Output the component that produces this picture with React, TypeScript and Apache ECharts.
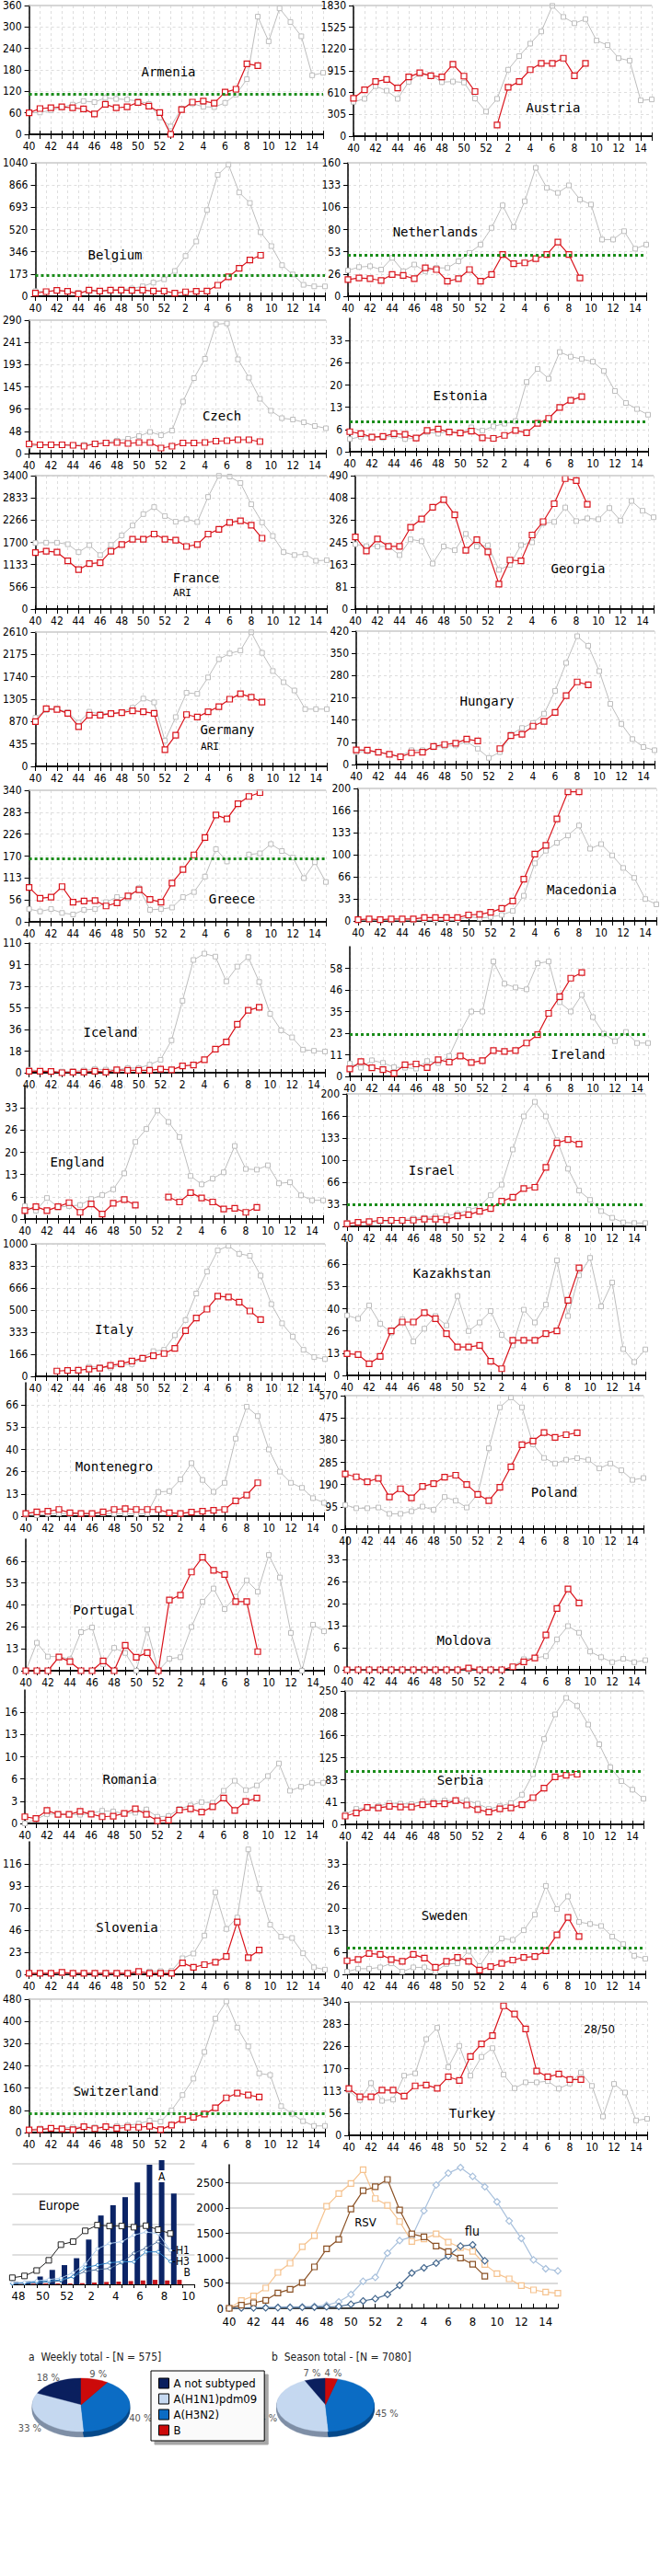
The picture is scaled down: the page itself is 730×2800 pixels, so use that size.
import React, { useEffect, useRef } from "react";
import * as echarts from "echarts";

const NARROW = "'Liberation Sans Narrow', 'DejaVu Sans Condensed', 'Liberation Sans', sans-serif";
const MONO = "'DejaVu Sans Mono', 'Liberation Mono', monospace";

const weeks = ["40","41","42","43","44","45","46","47","48","49","50","51","52","1","2","3","4","5","6","7","8","9","10","11","12","13","14","15"];

const armeniaRed = [60,72,74,77,74,71,57,84,74,77,89,79,61,0,69,90,93,87,118,126,197,192];
const armeniaGray = [60,61,67,76,83,93,90,102,99,97,93,85,47,22,72,86,77,76,88,111,154,329,260,352,314,274,165,172];
const austriaRed = [531,650,765,795,676,829,888,846,829,1007,841,625,null,157,684,765,931,1020,1020,1092,846,1020];
const austriaGray = [480,523,701,637,523,761,871,854,756,765,752,527,344,523,931,1122,1296,1466,1825,1670,1581,1640,1339,1275,1092,1058,501,514];
const belgiumRed = [24,36,46,38,19,48,41,48,48,46,48,41,41,24,34,38,41,86,151,218,283,319];
const belgiumGray = [40,36,46,36,26,41,36,48,53,60,77,106,132,197,314,427,672,946,1027,809,727,499,391,242,170,89,77,77];
const netherlandsRed = [20,22,21,19,26,25,21,34,32,18,21,32,18,26,50,39,40,45,50,65,50,22];
const netherlandsGray = [31,35,36,32,46,30,38,30,34,34,42,52,62,82,109,83,114,154,130,124,133,116,110,68,68,78,57,62];
const czechRed = [21,19,19,19,18,16,21,23,24,22,24,24,12,16,23,23,24,27,28,30,30,26];
const czechGray = [17,18,18,18,18,19,21,24,28,32,38,47,40,50,113,164,206,281,283,205,165,119,93,77,74,68,60,55];
const estoniaRed = [6.0,5.4,4.4,4.6,5.4,5.2,4.1,6.4,6.8,5.9,5.6,6.2,4.2,4.0,4.9,6.4,5.7,8.5,10,13.3,15.4,16.5];
const estoniaGray = [3.8,4.5,4.5,4.2,4.8,3.8,4.1,5.9,5.4,6.1,5.6,7.3,6.3,7.6,8.4,9.2,20.9,24.8,21.9,29.9,28.5,27.8,27,24.2,18.2,14.6,12.8,11.1];
const franceRed = [1441,1474,1450,1230,1003,1157,1182,1474,1643,1781,1781,1911,1781,1757,1595,1643,1911,2032,2209,2250,2136,1805];
const franceGray = [1684,1692,1692,1652,1450,1627,1376,1635,1878,2128,2420,2598,2371,2225,2290,2217,2857,3395,3376,3214,2671,2209,1862,1450,1376,1400,1230,1246];
const georgiaRed = [265,213,257,230,230,300,331,374,402,346,216,255,210,92,180,177,272,321,387,479,472,385];
const georgiaGray = [238,231,230,230,198,256,249,167,230,216,276,230,234,144,162,235,245,315,320,373,323,333,330,371,325,397,361,337];
const germanyRed = [870,1118,1106,1031,771,994,994,1025,1044,1081,1062,1031,323,605,1006,957,1062,1161,1305,1410,1342,1249];
const germanyGray = [944,1093,1118,1050,851,1062,1019,1031,1050,1137,1317,1243,497,957,1429,1410,1728,2082,2194,2250,2605,2206,1852,1635,1474,1112,1112,1112];
const hungaryRed = [46,45,39,32,24,37,39,57,63,67,80,74,null,50,91,95,121,136,164,217,260,251];
const hungaryGray = [39,42,39,32,26,45,45,54,57,60,72,50,21,39,95,115,131,160,232,320,404,374,294,191,128,80,55,45];
const greeceRed = [89,61,64,91,51,54,55,41,49,67,83,58,51,100,135,173,218,276,266,305,324,334];
const greeceGray = [33,27,33,23,19,31,33,51,64,61,87,31,33,37,64,77,117,188,156,null,174,177,201,183,166,113,154,103];
const macedoniaRed = [2,3,2,3,3,3,5,5,5,5,9,10,13,19,30,63,101,114,154,195,195];
const macedoniaGray = [1,1,1,1,1,1,1,1,1,1,7,4,6,9,15,38,87,106,118,129,144,109,116,99,80,65,33,25];
const icelandRed = [1.3,1.3,1,0,0.5,0.5,1.3,0.5,2.4,2,2,2,3,2.4,5.8,6.5,11,20,26,41,53,55.5];
const icelandGray = [2.6,1.6,1.3,1,1.3,2,3,2.6,2.4,4,4,6.8,11,27.5,61,95.6,101,98.5,77.5,90,98,77,50,36,30,19.6,18.6,18];
const irelandRed = [4,8,4.7,3.7,1.7,6.3,6.7,4.8,9,7.7,11,7.5,8.5,14,13.5,14,18,22.5,34,43,53,56];
const irelandGray = [7,4.7,8.7,7.3,5,4.7,4.2,8.3,7.2,11,24,35,35,62,50,48,47,61,62,40,35,44,32,23,19,24,18,18];
const englandRed = [2.5,3.7,2.5,3.7,4.9,2,4.5,1.5,4.7,5.8,4.2,null,null,6.6,5.1,7.9,6.3,5.1,3,3.2,2,3.5];
const englandGray = [3.9,2.5,6.3,3.5,3.9,4.2,6,7.2,8.9,13.7,23.1,27,32.5,29.1,24.6,12.9,10.4,12.1,14,21.9,15,14.8,16.1,10.7,11,7.1,5.6,5.6];
const israelRed = [4,6,7,9,9,9,9.4,11,11,10,15.7,17.6,22.7,27,38,44,57,59,89,126,131,124];
const israelGray = [5,5,6,7,8,10,12,13,15,16,19,25,30,47,63,116,166,188,166,130,87,54,40,23,13,6,5,5];
const italyRed = [null,null,40,44,46,55,62,82,95,116,136,156,172,211,345,440,507,605,598,560,493,428];
const italyGray = [null,null,null,null,null,72,70,66,86,92,140,190,200,310,425,625,790,950,985,925,910,760,545,400,300,200,145,130];
const kazakhstanRed = [13,12.5,7,11.4,26.7,32,32,37.6,34,25,17,17,18,8.5,4,21,21,21,25,26.7,45,64.5];
const kazakhstanGray = [36,34,42,31,25.6,33.7,20.3,28,35.6,30,47.6,26.6,31.7,38.6,24.3,18,39.4,31.7,42.4,69,35.6,60,70.5,41.4,55.7,15.8,8,15.6];
const montenegroRed = [1.6,2.5,3,4,2,1.6,1.6,2.5,4,4.5,4,4,4,2,1.6,2.4,3,3.5,4,9.2,12.6,20];
const montenegroGray = [0.8,0.5,1.3,1.6,1.3,1.7,1.3,1.7,1.4,1.6,1.1,1.7,14.5,15,22,31.8,21.7,14.6,20,46.5,65.6,60,40,26.7,20,17,10.8,8];
const polandRed = [235,223,202,217,137,172,133,182,194,222,230,190,148,121,178,266,360,376,412,392,403,411];
const polandGray = [103,89,89,92,65,65,76,96,82,137,121,92,150,345,520,562,520,362,304,280,296,303,296,259,280,251,210,218];
const portugalRed = [0,0,0,8.3,5.5,0,0,5.9,0,15.5,8.2,11,0,43,46,60,69,61,58.5,42,42,11.6];
const portugalGray = [0,17,8.6,8.6,7,23.5,26.3,4,13.9,10.8,0,25,0,7.3,8.2,26.6,42,50,37.5,45,55,48,70.4,56.7,23,0,28,24];
const moldovaRed = [0,0,0,0,0,0,0,0,0,0,0,0.5,0,0,0,0.9,2.4,3.6,10.5,18.5,24.4,20.2];
const moldovaGray = [0,0,0,0,0,0,0,0,0,0,0,0,0,0,0,1,3.2,3.6,4.1,9.2,13.2,11.2,5.5,3.8,2.3,3.3,2.3,2.9];
const romaniaRed = [1.0,0.75,1.95,1.35,1.35,1.8,1.4,1.0,1.1,1.5,2.2,1.35,0.4,0.5,2.0,2.2,1.7,2.5,3.8,1.95,3.3,3.8];
const romaniaGray = [0,0.6,1.4,1.4,1.4,1.3,1.5,1.9,1.8,1.5,1.6,2.1,1.0,1.1,2.2,2.7,3.2,3.1,4.9,6.4,5.0,5.7,7.1,9.0,4.9,5.5,6.1,6.1];
const serbiaRed = [15.5,21.5,31.7,30.7,33.7,32.7,32.7,36.7,38.7,38.7,44.6,36.2,27.7,23,29,30.7,36.7,50,68,89,92,94];
const serbiaGray = [19,29,31.7,34,40,38.7,38,43.5,42.3,44.6,44.6,45.2,38.7,29,34,40,55.6,94,160,206,237,222,187,150,107,80.9,65,48];
const sloveniaRed = [1,1,1,2,1,1,1,1,1,1,3,1,1,1,12,7.4,10.2,12.8,18.8,55.3,17.6,25.6];
const sloveniaGray = [1,1,1,1,1,1,1,1,1,1,2,3,3.4,3.7,17,21.9,41,86.7,47.9,60,132,90.4,52.4,39.7,38.4,22.2,7.4,5];
const swedenRed = [4.1,4.5,6.3,6.0,4.5,3.9,6.0,4.9,2.1,3.9,5.1,3.9,1.3,2.3,3.3,4.3,5.1,5.4,7.1,11.9,17.2,11.4];
const swedenGray = [0.8,1.7,1.7,2.1,3.3,0.8,2.1,2.1,0.8,3.1,3.3,7.1,2.5,7.4,10.8,10.4,13.3,18,26.7,19.7,23.5,15.8,15.2,14.6,11.4,9.1,5.6,4.7];
const switzerlandRed = [9.5,10.5,15,13,10.5,21,14,21,15,19,19,23,10.5,27,47,55,66.5,89,125,142,135,128];
const switzerlandGray = [9.5,15,13,17,19,20,19,20,23,26,32,43,39,80,135,194,290,410,472,378,310,213,207,95,67.5,41,24,24];
const turkeyRed = [119.5,98,98,115,115,100,126,128,120,149,140,201,233,254,330,309,271,164,149,156,142,142];
const turkeyGray = [114,90,133,88,91,152,158,245,274,174,228,152,200,222,155,120,135,135,138,119,132,160,126,48,131,109,38,42];

const panels: any[] = [
  { name: "Armenia", red: armeniaRed, gray: armeniaGray, max: 360, thr: 113 },
  { name: "Austria", red: austriaRed, gray: austriaGray, max: 1830 },
  { name: "Belgium", red: belgiumRed, gray: belgiumGray, max: 1040, thr: 166 },
  { name: "Netherlands", red: netherlandsRed, gray: netherlandsGray, max: 160, thr: 49 },
  { name: "Czech", red: czechRed, gray: czechGray, max: 290 },
  { name: "Estonia", red: estoniaRed, gray: estoniaGray, max: 40, thr: 8.9 },
  { name: "France", sub: "ARI", red: franceRed, gray: franceGray, max: 3400 },
  { name: "Georgia", red: georgiaRed, gray: georgiaGray, max: 490 },
  { name: "Germany", sub: "ARI", red: germanyRed, gray: germanyGray, max: 2610 },
  { name: "Hungary", red: hungaryRed, gray: hungaryGray, max: 420 },
  { name: "Greece", red: greeceRed, gray: greeceGray, max: 340, thr: 163 },
  { name: "Macedonia", red: macedoniaRed, gray: macedoniaGray, max: 200 },
  { name: "Iceland", red: icelandRed, gray: icelandGray, max: 110 },
  { name: "Ireland", red: irelandRed, gray: irelandGray, max: 70, thr: 22.5 },
  { name: "England", red: englandRed, gray: englandGray, max: 40 },
  { name: "Israel", red: israelRed, gray: israelGray, max: 200, thr: 33 },
  { name: "Italy", red: italyRed, gray: italyGray, max: 1000 },
  { name: "Kazakhstan", red: kazakhstanRed, gray: kazakhstanGray, max: 80 },
  { name: "Montenegro", red: montenegroRed, gray: montenegroGray, max: 80 },
  { name: "Poland", red: polandRed, gray: polandGray, max: 570 },
  { name: "Portugal", red: portugalRed, gray: portugalGray, max: 80 },
  { name: "Moldova", red: moldovaRed, gray: moldovaGray, max: 40 },
  { name: "Romania", red: romaniaRed, gray: romaniaGray, max: 20 },
  { name: "Serbia", red: serbiaRed, gray: serbiaGray, max: 250, thr: 100 },
  { name: "Slovenia", red: sloveniaRed, gray: sloveniaGray, max: 140 },
  { name: "Sweden", red: swedenRed, gray: swedenGray, max: 40, thr: 7.9 },
  { name: "Switzerland", red: switzerlandRed, gray: switzerlandGray, max: 480, thr: 68 },
  { name: "Turkey", note: "28/50", red: turkeyRed, gray: turkeyGray, max: 340 },
];

// layout: y-axis x, grid top (max), x-axis y (zero), name position, whether top label is visible
const panelLayout = [
  { x: 27, top: 3, zero: 146, lx: 183, ly: 78, showTop: true },
  { x: 384, top: 5, zero: 148, lx: 601, ly: 117, showTop: true },
  { x: 29, top: 177, zero: 322, lx: 125, ly: 277, showTop: true },
  { x: 378, top: 177, zero: 322, lx: 473, ly: 252, showTop: true },
  { x: 30, top: 348, zero: 493, lx: 241, ly: 452, showTop: true },
  { x: 380, top: 346, zero: 491, lx: 500, ly: 430, showTop: false },
  { x: 31, top: 517, zero: 662, lx: 213, ly: 628, sx: 198, sy: 644, showTop: true },
  { x: 386, top: 517, zero: 662, lx: 628, ly: 618, showTop: true },
  { x: 31, top: 687, zero: 833, lx: 247, ly: 793, sx: 228, sy: 811, showTop: true },
  { x: 387, top: 686, zero: 831, lx: 529, ly: 762, showTop: true },
  { x: 30, top: 859, zero: 1002, lx: 252, ly: 977, showTop: true },
  { x: 389, top: 857, zero: 1001, lx: 632, ly: 967, showTop: true },
  { x: 29, top: 1025, zero: 1166, lx: 120, ly: 1122, showTop: false },
  { x: 380, top: 1029, zero: 1170, lx: 628, ly: 1146, showTop: false },
  { x: 27, top: 1180, zero: 1325, lx: 84, ly: 1263, showTop: false },
  { x: 377, top: 1189, zero: 1333, lx: 469, ly: 1272, showTop: true },
  { x: 29, top: 1352, zero: 1496, lx: 124, ly: 1445, showTop: true },
  { x: 377, top: 1350, zero: 1495, lx: 491, ly: 1384, showTop: false },
  { x: 28, top: 1503, zero: 1648, lx: 124, ly: 1594, showTop: false },
  { x: 375, top: 1517, zero: 1662, lx: 602, ly: 1622, showTop: true },
  { x: 28, top: 1673, zero: 1816, lx: 113, ly: 1750, showTop: false },
  { x: 377, top: 1671, zero: 1815, lx: 504, ly: 1783, showTop: false },
  { x: 27, top: 1837, zero: 1982, lx: 141, ly: 1934, showTop: false },
  { x: 375, top: 1838, zero: 1983, lx: 500, ly: 1935, showTop: true },
  { x: 29, top: 2002, zero: 2146, lx: 138, ly: 2095, showTop: false },
  { x: 377, top: 2002, zero: 2146, lx: 483, ly: 2082, showTop: false },
  { x: 29, top: 2173, zero: 2318, lx: 126, ly: 2273, showTop: true },
  { x: 379, top: 2176, zero: 2321, lx: 513, ly: 2297, nx: 651, ny: 2205, showTop: true },
];

// Europe panel
const europeWeeks = ["48","49","50","51","52","1","2","3","4","5","6","7","8","9","10"];
const europeEdges = ["48","49","50","51","52","1","2","3","4","5","6","7","8","9","10","11"];
const europeA = [8,10,26,48,64,87,149,229,263,290,339,398,413,302];
const europeB = [1,2,3,3,3,4,6,8,9,11,13,15,13,15];
const europeTotal = [22,28,46,80,132,142,178,197,194,194,190,195,182,169];
const europeH1 = [5,7,12,16,21,39,67,118,136,142,164,174,169,113];
const europeH3 = [3,5,8,11,15,26,56,64,72,75,75,108,108,76];
const europeOther = [2,4,6,8,12,26,43,49,53,72,103,121,142,113];

// RSV / flu panel
const rsvPrevSeason = [0,152,244,403,714,897,1226,1446,2031,2281,2485,2760,2184,2050,1726,1330,1379,1482,1318,1208,1135,872,689,586,451,366,323,300];
const rsvThisSeason = [0,61,110,159,305,378,512,824,1183,1373,1976,2342,2418,2564,1958,1482,1421,1238,1128,1000,878,640];
const fluPrevSeason = [0,10,12,15,20,25,30,40,61,128,275,537,616,1098,1348,1421,1941,2454,2690,2802,2625,2418,2119,1738,1391,964,787,744];
const fluThisSeason = [0,5,8,10,12,15,18,22,28,37,79,146,189,275,457,701,805,897,1043,1238,1263,945];

// pies
const subtypeNames = ["A not subtyped", "A(H1N1)pdm09", "A(H3N2)", "B"];
const weeklyCounts = [103, 190, 230, 52];
const seasonCounts = [496, 3115, 3186, 283];
const subtypeColors = ["#0a1f5e", "#c5d8f0", "#0b6cc4", "#cc0a0a"];
const subtypeSides = ["#061440", "#7f8fa6", "#074a8a", "#7a0000"];

const RED = "#d9131b";
const GRAY = "#bdbdbd";

function buildOption() {
  const grid: any[] = [];
  const xAxis: any[] = [];
  const yAxis: any[] = [];
  const series: any[] = [];
  const graphic: any[] = [];

  panels.forEach((p, k) => {
    const L: any = panelLayout[k];
    grid.push({ left: L.x, top: L.top, width: 324, height: L.zero - L.top, containLabel: false });
    const xi = xAxis.length;
    xAxis.push({
      type: "category", gridIndex: k, data: weeks, boundaryGap: false, position: "bottom",
      axisLine: { onZero: false, lineStyle: { color: "#000", width: 1.5 } },
      axisTick: { show: true, interval: 0, length: 5, lineStyle: { color: "#000", width: 1 } },
      axisLabel: { interval: 1, margin: 7, fontSize: 12, fontFamily: NARROW, color: "#000" },
      splitLine: { show: true, interval: 0, lineStyle: { color: "#dedede", type: [3, 3], width: 1 } },
    });
    xAxis.push({
      type: "category", gridIndex: k, data: weeks, boundaryGap: false, position: "top",
      axisLine: { show: true, onZero: true, lineStyle: { color: "#000", width: 1.5 } },
      axisTick: { show: true, interval: 0, length: 4, lineStyle: { color: "#000", width: 1 } },
      axisLabel: { show: false }, splitLine: { show: false },
    });
    const yi = yAxis.length;
    yAxis.push({
      type: "value", gridIndex: k, min: 0, max: p.max, interval: p.max / 6, position: "left",
      axisLine: { show: true, lineStyle: { color: "#000", width: 1.5 } },
      axisTick: { show: true, length: 5, lineStyle: { color: "#000" } },
      axisLabel: {
        margin: 8, fontSize: 12, fontFamily: NARROW, color: "#000", showMaxLabel: L.showTop,
        formatter: (v: number) => String(Math.floor(v + 1e-6)),
      },
      splitLine: { show: true, showMinLine: false, showMaxLine: false, lineStyle: { color: "#dedede", type: [3, 3] } },
    });
    series.push({
      type: "line", xAxisIndex: xi, yAxisIndex: yi, data: p.gray, silent: true,
      symbol: "rect", symbolSize: 5, showAllSymbol: true, connectNulls: false, z: 2,
      lineStyle: { color: GRAY, width: 1 },
      itemStyle: { color: "#fff", borderColor: GRAY, borderWidth: 1 },
      markLine: L.showTop ? {
        silent: true, symbol: ["none", "none"], label: { show: false },
        lineStyle: { color: "#c8c8c8", type: "solid", width: 1.5 },
        data: [{ yAxis: p.max }],
      } : undefined,
    });
    series.push({
      type: "line", xAxisIndex: xi, yAxisIndex: yi, data: p.red, silent: true,
      symbol: "rect", symbolSize: 6, showAllSymbol: true, connectNulls: false, z: 3,
      lineStyle: { color: RED, width: 1.2 },
      itemStyle: { color: "#fff", borderColor: RED, borderWidth: 1.2 },
      markLine: p.thr !== undefined ? {
        silent: true, symbol: ["none", "none"], label: { show: false },
        lineStyle: { color: "#1a8c1a", type: [3, 3], width: 3 },
        data: [{ yAxis: p.thr }],
      } : undefined,
    });
    graphic.push({
      type: "text", x: L.lx, y: L.ly, z: 50,
      style: { text: p.name, fill: "#000", fontSize: 14, fontFamily: MONO, align: "center", verticalAlign: "middle" },
    });
    if (p.sub) {
      graphic.push({
        type: "text", x: L.sx, y: L.sy, z: 50,
        style: { text: p.sub, fill: "#000", fontSize: 11, fontFamily: MONO, align: "center", verticalAlign: "middle" },
      });
    }
    if (p.note) {
      graphic.push({
        type: "text", x: L.nx, y: L.ny, z: 50,
        style: { text: p.note, fill: "#000", fontSize: 13, fontFamily: NARROW, align: "center", verticalAlign: "middle" },
      });
    }
  });

  // Europe panel
  const eg = grid.length;
  grid.push({ left: 13.4, top: 2345.7, width: 198, height: 137.3, containLabel: false });
  const ex = xAxis.length;
  xAxis.push({
    type: "category", gridIndex: eg, data: europeWeeks, boundaryGap: true, position: "bottom",
    axisLine: { onZero: false, lineStyle: { color: "#000", width: 1 } },
    axisTick: { show: true, interval: 0, length: 4, lineStyle: { color: "#000" } },
    axisLabel: { interval: 1, margin: 6, fontSize: 13, fontFamily: NARROW, color: "#000" },
    splitLine: { show: false },
  });
  const ex2 = xAxis.length;
  xAxis.push({ type: "category", gridIndex: eg, data: europeEdges, boundaryGap: false, position: "top", show: false });
  const ey = yAxis.length;
  yAxis.push({
    type: "value", gridIndex: eg, min: 0, max: 420, interval: 100,
    axisLine: { show: false }, axisTick: { show: false }, axisLabel: { show: false },
    splitLine: { show: true, showMinLine: false, showMaxLine: false, lineStyle: { color: "#d4d4d4", width: 1.5 } },
  });
  series.push({
    type: "bar", xAxisIndex: ex, yAxisIndex: ey, barWidth: 6, barGap: "10%", silent: true, z: 2,
    itemStyle: { color: "#0b2466" },
    data: europeA.map((v, i) => i === 12 ? {
      value: v,
      label: { show: true, position: "insideTop", formatter: "A", offset: [0, 6], color: "#000", fontSize: 12, fontFamily: NARROW, backgroundColor: "#fff", padding: [1, 1, 0, 1] },
    } : v),
  });
  series.push({
    type: "bar", xAxisIndex: ex, yAxisIndex: ey, barWidth: 5, silent: true, z: 2,
    itemStyle: { color: "#c4151c" },
    data: europeB.map((v, i) => i === europeB.length - 1 ? {
      value: v,
      label: { show: true, position: [7, -14], formatter: "B", color: "#000", fontSize: 12, fontFamily: NARROW },
    } : v),
  });
  const euLine = (data: number[], color: string, symbol: string, size: number, fill: string, label?: string) => ({
    type: "line", xAxisIndex: ex2, yAxisIndex: ey, data, silent: true, z: 4,
    symbol, symbolSize: size, showAllSymbol: true,
    lineStyle: { color, width: 1 },
    itemStyle: { color: fill, borderColor: color, borderWidth: 1 },
    endLabel: label ? { show: true, formatter: label, color: "#000", fontSize: 12, fontFamily: NARROW, distance: 2 } : undefined,
  });
  series.push(euLine(europeOther, "#4d6f99", "diamond", 4, "#fff"));
  series.push(euLine(europeH3, "#2f86c8", "diamond", 4, "#fff", "-H3"));
  series.push(euLine(europeH1, "#a9c9ea", "diamond", 4, "#fff", "-H1"));
  series.push(euLine(europeTotal, "#222222", "rect", 6, "#fff"));
  graphic.push({
    type: "text", x: 64, y: 2397, z: 50,
    style: { text: "Europe", fill: "#000", fontSize: 14, fontFamily: NARROW, align: "center", verticalAlign: "middle" },
  });

  // RSV / flu panel
  const rg = grid.length;
  grid.push({ left: 249, top: 2353, width: 357, height: 156, containLabel: false });
  const rx = xAxis.length;
  xAxis.push({
    type: "category", gridIndex: rg, data: weeks, boundaryGap: false, position: "bottom",
    axisLine: { onZero: false, lineStyle: { color: "#000", width: 1.5 } },
    axisTick: { show: true, inside: true, interval: 0, length: 5, lineStyle: { color: "#000" } },
    axisLabel: { interval: 1, margin: 8, fontSize: 13, fontFamily: NARROW, color: "#000" },
    splitLine: { show: false },
  });
  const ry = yAxis.length;
  yAxis.push({
    type: "value", gridIndex: rg, min: 0, max: 2857, interval: 500,
    axisLine: { show: true, lineStyle: { color: "#000", width: 1.5 } },
    axisTick: { show: true, length: 4, lineStyle: { color: "#000" } },
    axisLabel: { margin: 6, fontSize: 13, fontFamily: NARROW, color: "#000", showMaxLabel: false, formatter: (v: number) => String(v) },
    splitLine: { show: true, showMinLine: false, showMaxLine: false, lineStyle: { color: "#cfcfcf", width: 1.5 } },
  });
  const rsvLine = (data: number[], color: string, symbol: string) => ({
    type: "line", xAxisIndex: rx, yAxisIndex: ry, data, silent: true,
    symbol, symbolSize: symbol === "rect" ? 6 : 7, showAllSymbol: true,
    lineStyle: { color, width: 1.2 },
    itemStyle: { color: "#fff", borderColor: color, borderWidth: 1.2 },
  });
  series.push(rsvLine(fluPrevSeason, "#a8c0dc", "diamond"));
  series.push(rsvLine(rsvPrevSeason, "#f5c28e", "rect"));
  series.push(rsvLine(fluThisSeason, "#46698f", "diamond"));
  series.push(rsvLine(rsvThisSeason, "#8b5226", "rect"));
  graphic.push({ type: "text", x: 397, y: 2415, z: 50, style: { text: "RSV", fill: "#000", fontSize: 13, fontFamily: NARROW, align: "center", verticalAlign: "middle" } });
  graphic.push({ type: "text", x: 513, y: 2425, z: 50, style: { text: "flu", fill: "#000", fontSize: 14, fontFamily: NARROW, align: "center", verticalAlign: "middle" } });

  // pies
  const pieSets = [weeklyCounts, seasonCounts];
  const pieCenters = [[88, 2614], [353.5, 2614]];
  const PR = 53, PRY = 29, DEPTH = 6;
  subtypeNames.forEach((name, j) => {
    series.push({
      type: "custom", name, coordinateSystem: "none", silent: true,
      itemStyle: { color: subtypeColors[j] },
      data: [weeklyCounts[j], seasonCounts[j]],
      renderItem: (params: any) => {
        const i = params.dataIndex;
        const counts = pieSets[i];
        const total = counts.reduce((a, b) => a + b, 0);
        let before = 0;
        for (let q = 0; q < j; q++) before += counts[q];
        const cumStart = before / total;
        const cumEnd = (before + counts[j]) / total;
        const t0 = (1 - cumEnd) * Math.PI * 2;
        const t1 = (1 - cumStart) * Math.PI * 2;
        const a0 = t0 - Math.PI / 2;
        const a1 = t1 - Math.PI / 2;
        const cx = pieCenters[i][0];
        const cy = pieCenters[i][1];
        const sy = PRY / PR;
        const children: any[] = [];
        for (let d = DEPTH; d >= 1; d--) {
          children.push({
            type: "group", x: cx, y: cy + d, scaleY: sy,
            children: [{ type: "sector", z2: 1, shape: { cx: 0, cy: 0, r: PR, r0: 0, startAngle: a0, endAngle: a1, clockwise: true }, style: { fill: subtypeSides[j], stroke: subtypeSides[j], lineWidth: 0.5 } }],
          });
        }
        children.push({
          type: "group", x: cx, y: cy, scaleY: sy,
          children: [{ type: "sector", z2: 10, shape: { cx: 0, cy: 0, r: PR, r0: 0, startAngle: a0, endAngle: a1, clockwise: true }, style: { fill: subtypeColors[j], stroke: subtypeColors[j], lineWidth: 0.5 } }],
        });
        const tm = (t0 + t1) / 2;
        const pct = Math.round((counts[j] / total) * 100);
        const lx = cx + (PR + 14) * Math.sin(tm);
        const ly = cy - (PRY + 6) * Math.cos(tm) + (Math.cos(tm) < 0 ? DEPTH : 0);
        children.push({
          type: "text", x: lx, y: ly, z2: 20,
          style: { text: pct + " %", fill: "#555", fontSize: 11, fontFamily: NARROW, align: "center", verticalAlign: "middle" },
        });
        return { type: "group", children };
      },
    });
  });
  const sum = (a: number[]) => a.reduce((s, v) => s + v, 0);
  graphic.push({ type: "text", x: 31, y: 2562, z: 50, style: { text: "a  Weekly total - [N = " + sum(weeklyCounts) + "]", fill: "#222", fontSize: 12, fontFamily: NARROW, align: "left", verticalAlign: "middle" } });
  graphic.push({ type: "text", x: 295, y: 2562, z: 50, style: { text: "b  Season total - [N = " + sum(seasonCounts) + "]", fill: "#222", fontSize: 12, fontFamily: NARROW, align: "left", verticalAlign: "middle" } });

  return {
    animation: false,
    backgroundColor: "#fff",
    grid, xAxis, yAxis, series, graphic,
    legend: {
      type: "plain", orient: "vertical", left: 164, top: 2577, selectedMode: false,
      data: subtypeNames, icon: "rect", itemWidth: 11, itemHeight: 11, itemGap: 4,
      itemStyle: { borderColor: "#000", borderWidth: 1 },
      textStyle: { fontSize: 13, fontFamily: NARROW, color: "#000" },
      backgroundColor: "#fafafa", borderColor: "#000", borderWidth: 1, padding: [7, 8, 5, 8],
      shadowColor: "rgba(0,0,0,0.35)", shadowOffsetX: 4, shadowOffsetY: 4, shadowBlur: 0,
    },
  };
}

export default function App() {
  const ref = useRef<HTMLDivElement>(null);
  useEffect(() => {
    if (!ref.current) return;
    const chart = echarts.init(ref.current, null, { renderer: "svg" });
    chart.setOption(buildOption() as any);
    return () => chart.dispose();
  }, []);
  return <div ref={ref} style={{ position: "absolute", left: 0, top: 0, width: 730, height: 2800 }} />;
}
